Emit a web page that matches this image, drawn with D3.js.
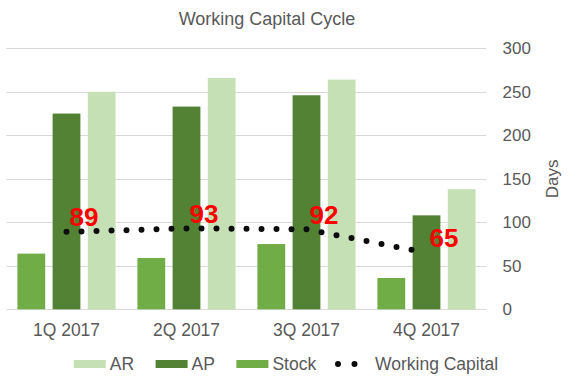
<!DOCTYPE html>
<html>
<head>
<meta charset="utf-8">
<script src="https://cdn.jsdelivr.net/npm/d3@7"></script>
<style>
  html, body { margin: 0; padding: 0; background: #ffffff; }
  svg { display: block; font-family: "Liberation Sans", Arial, sans-serif; }
</style>
</head>
<body>
<svg id="chart" width="570" height="378"></svg>
<script>
// ---- data ----
const categories = ["1Q 2017", "2Q 2017", "3Q 2017", "4Q 2017"];
const stock = [64, 59, 75, 36];
const ap = [225, 233, 246, 108];
const ar = [250, 266, 264, 138];
const workingCapital = [89, 93, 92, 65];
const yTicks = [0, 50, 100, 150, 200, 250, 300];
const seriesNames = ["Stock", "AP", "AR"];
const legendNames = ["AR", "AP", "Stock", "Working Capital"];

const colors = { Stock: "#70AD47", AP: "#548235", AR: "#C5E0B4" };
const textColor = "#595959";

const svg = d3.select("#chart");
const plotLeft = 6.5, plotRight = 486.5, plotTop = 48.3, plotBottom = 309.3;

const x0 = d3.scaleBand().domain(categories).range([plotLeft, plotRight]).paddingInner(0).paddingOuter(0);
const x1 = d3.scaleBand().domain(seriesNames).range([0, x0.bandwidth()]).paddingInner(0.21).paddingOuter(0.31);
const y = d3.scaleLinear().domain([0, 300]).range([plotBottom, plotTop]);

// title
svg.append("text").attr("x", 267).attr("y", 25).attr("text-anchor", "middle")
  .attr("font-size", 18).attr("fill", textColor).text("Working Capital Cycle");

// gridlines
svg.append("g").selectAll("line").data(yTicks).join("line")
  .attr("x1", plotLeft).attr("x2", plotRight)
  .attr("y1", d => Math.round(y(d)) + 0.5).attr("y2", d => Math.round(y(d)) + 0.5)
  .attr("stroke", "#D9D9D9").attr("stroke-width", 1);

// right axis
const yAxis = d3.axisRight(y).tickValues(yTicks).tickSize(0).tickPadding(0);
const gy = svg.append("g").attr("transform", `translate(${plotRight + 16},0)`).call(yAxis);
gy.select(".domain").remove();
gy.selectAll("text").attr("font-size", 17).attr("fill", textColor)
  .attr("font-family", "Liberation Sans, Arial, sans-serif");

svg.append("text").attr("transform", `translate(558,${(plotTop + plotBottom) / 2}) rotate(-90)`)
  .attr("text-anchor", "middle").attr("font-size", 17).attr("fill", textColor).text("Days");

// x axis labels
const xAxis = d3.axisBottom(x0).tickSize(0).tickPadding(0);
const gx = svg.append("g").attr("transform", `translate(0,${plotBottom + 14})`).call(xAxis);
gx.select(".domain").remove();
gx.selectAll("text").attr("font-size", 17.5).attr("fill", textColor)
  .attr("font-family", "Liberation Sans, Arial, sans-serif");

// bars
const seriesData = { Stock: stock, AP: ap, AR: ar };
const groups = svg.append("g").selectAll("g").data(categories).join("g")
  .attr("transform", d => `translate(${x0(d)},0)`);
groups.selectAll("rect").data((c, i) => seriesNames.map(s => ({ s, v: seriesData[s][i] }))).join("rect")
  .attr("x", d => x1(d.s)).attr("width", x1.bandwidth())
  .attr("y", d => y(d.v)).attr("height", d => y(0) - y(d.v))
  .attr("fill", d => colors[d.s]);

// working capital line (dotted, each segment with dots at both ends)
const cx = c => x0(c) + x0.bandwidth() / 2;
const pts = workingCapital.map((v, i) => [cx(categories[i]), y(v)]);
const segs = d3.pairs(pts);
svg.append("g").selectAll("path").data(segs).join("path")
  .attr("d", d => d3.line()(d))
  .attr("fill", "none").attr("stroke", "#0d0d0d").attr("stroke-width", 6)
  .attr("stroke-linecap", "round")
  .attr("stroke-dasharray", d => {
    const L = Math.hypot(d[1][0] - d[0][0], d[1][1] - d[0][1]);
    const n = Math.max(1, Math.round(L / 15));
    return `0 ${L / n}`;
  });

// data labels
svg.append("g").selectAll("text").data(workingCapital).join("text")
  .attr("x", (d, i) => cx(categories[i]) + 3).attr("y", d => y(d) - 5.5)
  .attr("font-size", 26).attr("font-weight", "bold").attr("fill", "#FF0000")
  .text(d => d);

// legend
const legendX = [73.8, 155.6, 236.4, 335];
const lg = svg.append("g");
legendNames.forEach((name, i) => {
  const lx = legendX[i];
  if (name === "Working Capital") {
    lg.append("path").attr("d", `M${lx + 3},364 L${lx + 36},364`)
      .attr("stroke", "#0d0d0d").attr("stroke-width", 6).attr("stroke-linecap", "round")
      .attr("stroke-dasharray", "0 16.5");
    lg.append("text").attr("x", lx + 40).attr("y", 370).attr("font-size", 17.5)
      .attr("fill", textColor).text(name);
  } else {
    lg.append("rect").attr("x", lx).attr("y", 360).attr("width", 32).attr("height", 8)
      .attr("fill", colors[name]);
    lg.append("text").attr("x", lx + 36).attr("y", 370).attr("font-size", 17.5)
      .attr("fill", textColor).text(name);
  }
});
</script>
</body>
</html>
